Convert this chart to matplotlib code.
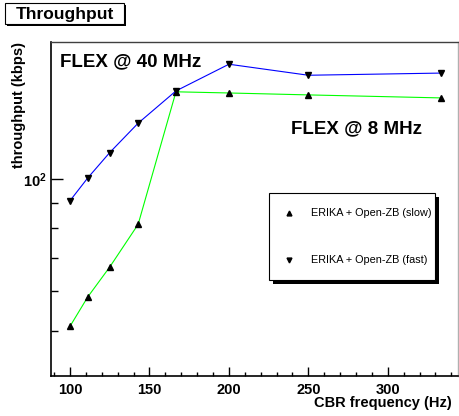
import numpy as np
import matplotlib
matplotlib.use('Agg')
import matplotlib.pyplot as plt
from matplotlib.patches import Rectangle
from matplotlib.lines import Line2D
from matplotlib.ticker import FixedLocator, NullFormatter

plt.rcParams['font.family'] = ['Liberation Sans', 'DejaVu Sans']
plt.rcParams['mathtext.fontset'] = 'custom'
plt.rcParams['mathtext.bf'] = 'Liberation Sans:bold'
plt.rcParams['mathtext.rm'] = 'Liberation Sans'

# CBR periods 10..3 ms -> frequency in Hz
periods_ms = [10, 9, 8, 7, 6, 5, 4, 3]
freq = [1000.0 / p for p in periods_ms]

# throughput (kbps)
slow = [51.2, 58.5, 67.1, 81.5, 149.2, 148.4, 147.1, 145.1]   # FLEX @ 8 MHz
fast = [90.8, 100.7, 113.1, 129.3, 149.8, 169.2, 160.9, 162.5]  # FLEX @ 40 MHz

labels = ['ERIKA + Open-ZB (slow)', 'ERIKA + Open-ZB (fast)']

W, H = 459, 416
fig = plt.figure(figsize=(W / 100, H / 100), dpi=100)

def px(x, y):
    # pixel position (from top-left) -> figure fraction
    return x / W, 1 - y / H

l, t = px(51, 42.3)
r, b = px(458.3, 376)
ax = fig.add_axes([l, b, r - l, t - b])

ax.plot(freq, slow, color='#00ff00', lw=0.8, marker='^', ms=4,
        mfc='k', mec='k', zorder=3)
ax.plot(freq, fast, color='#0000ff', lw=0.8, marker='v', ms=4,
        mfc='k', mec='k', zorder=3)

ax.set_yscale('log')
ax.set_xlim(88.0, 344.4)
ax.set_ylim(40.8, 187)

ax.xaxis.set_major_locator(FixedLocator([100, 150, 200, 250, 300]))
ax.xaxis.set_minor_locator(FixedLocator(np.arange(90, 345, 10)))
ax.yaxis.set_major_locator(FixedLocator([100]))
ax.yaxis.set_minor_locator(FixedLocator([50, 60, 70, 80, 90]))
ax.yaxis.set_minor_formatter(NullFormatter())
ax.set_yticklabels([r'$\mathbf{10^{2}}$'])
ax.set_xticklabels(['100', '150', '200', '250', '300'])

ax.tick_params(axis='x', which='major', direction='in', length=6.5, width=1,
               pad=5, labelsize=10.5)
ax.tick_params(axis='x', which='minor', direction='in', length=3, width=1)
ax.tick_params(axis='y', which='major', direction='in', length=8.6, width=1,
               pad=3, labelsize=10.5)
ax.tick_params(axis='y', which='minor', direction='in', length=4.8, width=1)
for lab in ax.get_xticklabels():
    lab.set_fontweight('bold')

ax.spines['left'].set_linewidth(1.2)
ax.spines['bottom'].set_linewidth(1.2)
ax.spines['top'].set_color('#404040')
ax.spines['right'].set_color('#b0b0b0')
ax.spines['top'].set_linewidth(1)
ax.spines['right'].set_linewidth(1)

# annotations inside the frame
fig.text(*px(60, 62), 'FLEX @ 40 MHz', fontsize=13.5, fontweight='bold',
         ha='left', va='center')
fig.text(*px(291, 129), 'FLEX @ 8 MHz', fontsize=13.5, fontweight='bold',
         ha='left', va='center')

# axis titles
fig.text(*px(19, 105), 'throughput (kbps)', fontsize=10.5, fontweight='bold',
         rotation=90, ha='center', va='center')
fig.text(*px(452, 403), 'CBR frequency (Hz)', fontsize=10.5, fontweight='bold',
         ha='right', va='center')

def shadow_box(x0, y0, x1, y1, off):
    # ROOT style box with black drop shadow, pixel coords
    bx, by = px(x0 + off, y1 + off)
    fig.add_artist(Rectangle((bx, by), (x1 - x0) / W, (y1 - y0) / H,
                             transform=fig.transFigure, facecolor='k',
                             edgecolor='k', lw=0))
    bx, by = px(x0, y1)
    fig.add_artist(Rectangle((bx, by), (x1 - x0) / W, (y1 - y0) / H,
                             transform=fig.transFigure, facecolor='white',
                             edgecolor='k', lw=0.8))

# title box
shadow_box(5, 3, 124, 24, 2)
fig.text(*px(64.5, 14), 'Throughput', fontsize=12.5, fontweight='bold',
         ha='center', va='center')

# legend box
shadow_box(269, 193, 435, 280, 3.5)
for (y, m, txt) in [(213, '^', labels[0]), (260, 'v', labels[1])]:
    mx, my = px(289, y)
    fig.add_artist(Line2D([mx], [my], transform=fig.transFigure, marker=m,
                          ms=3.5, color='k', ls='none'))
    fig.text(*px(311, y), txt, fontsize=7.8, ha='left', va='center')

fig.savefig('out.png', dpi=100)
